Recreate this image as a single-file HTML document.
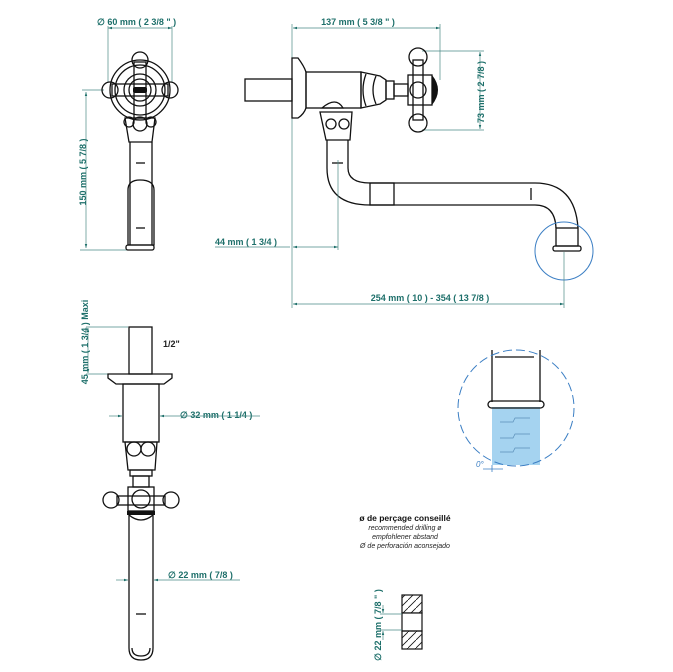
<!DOCTYPE html>
<html><head><style>
html,body{margin:0;padding:0;background:#fff;}
svg{display:block;}
text{font-family:"Liberation Sans",sans-serif;}
.d{fill:#1d6f6a;font-size:9px;font-weight:bold;}
.k{fill:none;stroke:#111;stroke-width:1.3;}
.g{fill:none;stroke:#4a8a86;stroke-width:0.7;}
</style></head><body>
<svg width="673" height="672" viewBox="0 0 673 672" xmlns="http://www.w3.org/2000/svg">
<defs>
<marker id="a" viewBox="0 0 10 10" refX="10" refY="5" markerWidth="6" markerHeight="6" orient="auto-start-reverse"><path d="M0,2 L10,5 L0,8z" fill="#1d6f6a"/></marker>
<pattern id="h" width="8" height="8" patternUnits="userSpaceOnUse"><path d="M0,8 L8,0" stroke="#111" stroke-width="0.8"/></pattern>
</defs>

<!-- TOP LEFT VIEW -->
<text x="97" y="25" class="d" fill="#888">∅ 60 mm ( 2 3/8 " )</text>
<line x1="108" y1="28" x2="172" y2="28" class="g" marker-start="url(#a)" marker-end="url(#a)"/>
<line x1="108" y1="26" x2="108" y2="82" class="g"/>
<line x1="172" y1="26" x2="172" y2="82" class="g"/>
<line x1="82" y1="90" x2="104" y2="90" class="g"/>
<line x1="80" y1="250" x2="128" y2="250" class="g"/>
<line x1="86" y1="92" x2="86" y2="248" class="g" marker-start="url(#a)" marker-end="url(#a)"/>
<text class="d" transform="translate(86,172) rotate(-90)" text-anchor="middle">150 mm ( 5 7/8 )</text>
<circle cx="140" cy="90" r="30" class="k"/>
<circle cx="140" cy="90" r="25" class="k" stroke-width="0.8"/>
<rect x="134" y="62" width="12" height="56" class="k" fill="#fff"/>
<rect x="112" y="84" width="56" height="12" class="k" fill="#fff"/>
<circle cx="140" cy="60" r="8" class="k" fill="#fff"/>
<circle cx="110" cy="90" r="8" class="k" fill="#fff"/>
<circle cx="170" cy="90" r="8" class="k" fill="#fff"/>
<circle cx="140" cy="90" r="16" class="k" fill="#fff" stroke-width="2.5"/>
<circle cx="140" cy="90" r="11" class="k" stroke-width="0.8"/>
<rect x="133" y="87" width="14" height="6" rx="2" fill="#111"/>
<path d="M125,118 L155,118 L152,142 L129,142 Z" class="k" fill="#fff"/>
<circle cx="129" cy="122" r="5" class="k" fill="#fff"/>
<circle cx="140" cy="124" r="7" class="k" fill="#fff"/>
<circle cx="151" cy="122" r="5" class="k" fill="#fff"/>
<path d="M130,142 L130,245 M152,142 L152,245" class="k"/>
<path d="M128,190 Q128,180 140,180 Q154,180 154,190 L154,245 L128,245 Z" class="k" fill="#fff"/>
<rect x="126" y="245" width="28" height="5" rx="2" class="k" fill="#fff"/>
<line x1="136" y1="163" x2="145" y2="163" class="k" stroke-width="0.8"/>
<line x1="136" y1="228" x2="145" y2="228" class="k" stroke-width="0.8"/>

<!-- TOP RIGHT VIEW -->
<text x="358" y="25" class="d" text-anchor="middle">137 mm ( 5 3/8 " )</text>
<line x1="293" y1="28" x2="440" y2="28" class="g" marker-start="url(#a)" marker-end="url(#a)"/>
<line x1="292" y1="24" x2="292" y2="308" class="g"/>
<line x1="440" y1="24" x2="440" y2="80" class="g"/>
<line x1="422" y1="51" x2="484" y2="51" class="g"/>
<line x1="422" y1="130" x2="484" y2="130" class="g"/>
<line x1="480" y1="52" x2="480" y2="129" class="g" marker-start="url(#a)" marker-end="url(#a)"/>
<text class="d" transform="translate(484,92) rotate(-90)" text-anchor="middle">73 mm ( 2 7/8 )</text>
<rect x="245" y="79" width="47" height="22" class="k" fill="#fff"/>
<path d="M292,58 L298,58 Q304,66 306,72 L306,108 Q304,114 298,118 L292,118 Z" class="k" fill="#fff"/>
<rect x="306" y="72" width="55" height="36" class="k" fill="#fff"/>
<path d="M361,72 L380,76 L386,80 L386,100 L380,104 L361,108 Z" class="k" fill="#fff"/>
<path d="M366,74 Q360,90 366,106 M376,76 Q370,90 376,104" class="k" stroke-width="0.8"/>
<rect x="386" y="81" width="8" height="18" class="k" fill="#fff"/>
<rect x="394" y="84" width="14" height="12" class="k" fill="#fff"/>
<rect x="413" y="60" width="10" height="60" class="k" fill="#fff"/>
<circle cx="418" cy="57" r="9" class="k" fill="#fff"/>
<circle cx="418" cy="123" r="9" class="k" fill="#fff"/>
<rect x="408" y="75" width="24" height="30" class="k" fill="#fff"/>
<circle cx="418" cy="90" r="8" class="k" fill="#fff"/>
<path d="M432,75 Q444,90 432,105 Z" fill="#111"/>
<path d="M322,108 L343,108 Q336,96 322,108 Z" class="k" stroke-width="0.8"/>
<path d="M320,112 L352,112 L350,140 L326,140 Z" class="k" fill="#fff"/>
<circle cx="331" cy="124" r="5" class="k" fill="#fff"/>
<circle cx="344" cy="124" r="5" class="k" fill="#fff"/>
<path d="M327,140 L327,168 Q327,205 370,205 L535,205 Q555,205 556,228" class="k"/>
<path d="M348,140 L348,168 Q348,183 370,183 L535,183 Q575,183 578,228" class="k"/>
<rect x="370" y="183" width="24" height="22" class="k" fill="#fff"/>
<line x1="531" y1="188" x2="531" y2="200" class="k" stroke-width="0.8"/>
<line x1="332" y1="163" x2="343" y2="163" class="k" stroke-width="0.8"/>
<rect x="556" y="228" width="22" height="18" class="k" fill="#fff"/>
<rect x="553" y="246" width="28" height="5" rx="2" class="k" fill="#fff"/>
<circle cx="564" cy="251" r="29" fill="none" stroke="#3c7fc4" stroke-width="1"/>
<line x1="564" y1="252" x2="564" y2="308" class="g"/>
<line x1="338" y1="160" x2="338" y2="250" class="g"/>
<text x="215" y="245" class="d">44 mm ( 1 3/4 )</text>
<line x1="215" y1="247" x2="290" y2="247" class="g"/>
<line x1="293" y1="247" x2="338" y2="247" class="g" marker-start="url(#a)" marker-end="url(#a)"/>
<text x="430" y="301" class="d" text-anchor="middle">254 mm ( 10 )  -  354 ( 13  7/8 )</text>
<line x1="293" y1="304" x2="564" y2="304" class="g" marker-start="url(#a)" marker-end="url(#a)"/>

<!-- BOTTOM LEFT VIEW -->
<line x1="86" y1="327" x2="128" y2="327" class="g"/>
<line x1="86" y1="374" x2="108" y2="374" class="g"/>
<line x1="88" y1="328" x2="88" y2="373" class="g" marker-start="url(#a)" marker-end="url(#a)"/>
<text class="d" transform="translate(88,342) rotate(-90)" text-anchor="middle">45 mm ( 1 3/4 ) Maxi</text>
<text x="163" y="347" class="d" fill="#222" style="fill:#222">1/2"</text>
<rect x="129" y="327" width="23" height="47" class="k" fill="#fff"/>
<path d="M108,374 L172,374 L172,378 L164,384 L116,384 L108,378 Z" class="k" fill="#fff"/>
<rect x="123" y="384" width="36" height="58" class="k" fill="#fff"/>
<text x="180" y="418" class="d">∅  32 mm  ( 1 1/4 )</text>
<line x1="109" y1="416" x2="122" y2="416" class="g" marker-end="url(#a)"/>
<line x1="160" y1="416" x2="260" y2="416" class="g" marker-start="url(#a)"/>
<path d="M125,442 L157,442 L155,470 L128,470 Z" class="k" fill="#fff"/>
<circle cx="134" cy="449" r="7" class="k" fill="#fff"/>
<circle cx="148" cy="449" r="7" class="k" fill="#fff"/>
<rect x="130" y="470" width="22" height="6" class="k" fill="#fff"/>
<rect x="133" y="476" width="16" height="11" class="k" fill="#fff"/>
<rect x="117" y="496" width="48" height="9" class="k" fill="#fff"/>
<circle cx="111" cy="500" r="8" class="k" fill="#fff"/>
<circle cx="171" cy="500" r="8" class="k" fill="#fff"/>
<rect x="128" y="487" width="26" height="24" class="k" fill="#fff"/>
<circle cx="141" cy="499" r="9" class="k" fill="#fff"/>
<rect x="127" y="511" width="28" height="4" fill="#111"/>
<path d="M129,515 Q141,525 153,515" class="k"/>
<path d="M129,515 L129,648 Q129,660 141,660 Q153,660 153,648 L153,515" class="k" fill="#fff"/>
<path d="M132,648 Q132,656 141,656 Q150,656 150,648" class="k" stroke-width="0.7"/>
<line x1="136" y1="614" x2="146" y2="614" class="k" stroke-width="0.8"/>
<text x="168" y="578" class="d">∅  22 mm  ( 7/8 )</text>
<line x1="116" y1="580" x2="128" y2="580" class="g" marker-end="url(#a)"/>
<line x1="154" y1="580" x2="240" y2="580" class="g" marker-start="url(#a)"/>

<!-- DETAIL CIRCLE -->
<rect x="492" y="407" width="48" height="58" fill="#a5d3f0"/>
<path d="M500,422 L513,422 L515,418 L530,418 M500,438 L513,438 L515,434 L530,434 M500,452 L513,452 L515,448 L530,448" fill="none" stroke="#5b8fb8" stroke-width="0.7"/>
<path d="M492,350 L492,402 M540,350 L540,402" class="k"/>
<line x1="495" y1="357" x2="534" y2="357" class="k" stroke-width="0.8"/>
<rect x="488" y="401" width="56" height="7" rx="3.5" class="k" fill="#fff"/>
<circle cx="516" cy="408" r="58" fill="none" stroke="#3c7fc4" stroke-width="1" stroke-dasharray="9,4"/>
<line x1="492" y1="465" x2="492" y2="472" stroke="#3c7fc4" stroke-width="0.8"/>
<line x1="483" y1="469" x2="503" y2="469" stroke="#3c7fc4" stroke-width="0.8"/>
<text x="476" y="467" font-size="8" fill="#3c7fc4" font-style="italic">0°</text>

<!-- TEXT BLOCK -->
<text x="405" y="521" font-size="8.5" font-weight="bold" text-anchor="middle" fill="#111">ø de perçage conseillé</text>
<text x="405" y="530" font-size="7" font-style="italic" text-anchor="middle" fill="#222">recommended drilling ø</text>
<text x="405" y="539" font-size="7" font-style="italic" text-anchor="middle" fill="#222">empfohlener abstand</text>
<text x="405" y="548" font-size="7" font-style="italic" text-anchor="middle" fill="#222">Ø de perforación aconsejado</text>

<!-- HATCH -->
<rect x="402" y="595" width="20" height="18" fill="url(#h)" stroke="#111" stroke-width="1.2"/>
<rect x="402" y="613" width="20" height="18" fill="#fff" stroke="#111" stroke-width="1.2"/>
<rect x="402" y="631" width="20" height="18" fill="url(#h)" stroke="#111" stroke-width="1.2"/>
<line x1="380" y1="614" x2="402" y2="614" class="g"/>
<line x1="380" y1="630" x2="402" y2="630" class="g"/>
<line x1="383" y1="605" x2="383" y2="613" class="g" marker-end="url(#a)"/>
<line x1="383" y1="640" x2="383" y2="631" class="g" marker-end="url(#a)"/>
<text class="d" transform="translate(381,625) rotate(-90)" text-anchor="middle">∅  22 mm  ( 7/8 " )</text>
</svg>
</body></html>
